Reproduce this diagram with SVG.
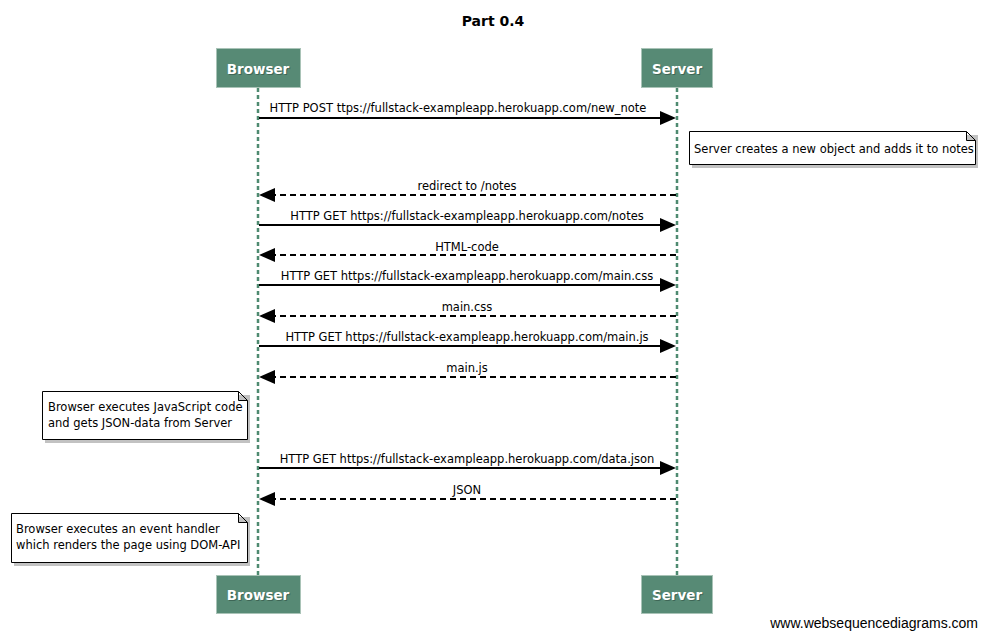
<svg xmlns="http://www.w3.org/2000/svg" width="986" height="639" viewBox="0 0 986 639">
<defs>
<style>
.life{stroke:#4e8a70;stroke-width:2.5;stroke-dasharray:4,3;fill:none}
.actor rect{fill:#578a75;stroke:#a9c3b7;stroke-width:1}
.actor text{font-family:"DejaVu Sans",sans-serif;font-weight:bold;font-size:13.5px;fill:#ffffff;text-anchor:middle}
.actor .sh{fill:#2f4f42;opacity:0.6}
.msg{stroke:#000;stroke-width:2;fill:none}
.dash{stroke-dasharray:6,4}
.lbl{font-family:"DejaVu Sans",sans-serif;font-size:11.5px;fill:#000;text-anchor:middle}
.note path.b{fill:#fff;stroke:#000;stroke-width:1}
.note path.s{fill:#999;opacity:0.6}
.note text{font-family:"DejaVu Sans",sans-serif;font-size:11.5px;fill:#000}
</style>
</defs>
<rect width="986" height="639" fill="#fff"/>
<text x="493" y="26" font-family="DejaVu Sans, sans-serif" font-weight="bold" font-size="14px" text-anchor="middle" fill="#000">Part 0.4</text>

<g id="lifelines">
<line class="life" x1="258" y1="88" x2="258" y2="575"/>
<line class="life" x1="677" y1="88" x2="677" y2="575"/>
</g>

<g id="browser-top" class="actor"><rect x="216.5" y="48.5" width="84" height="39"/><text class="sh" x="259" y="75">Browser</text><text x="258" y="74">Browser</text></g>
<g id="server-top" class="actor"><rect x="641.5" y="48.5" width="71" height="39"/><text class="sh" x="678" y="75">Server</text><text x="677" y="74">Server</text></g>
<g id="browser-bottom" class="actor"><rect x="216.5" y="575.5" width="84" height="38"/><text class="sh" x="259" y="601">Browser</text><text x="258" y="600">Browser</text></g>
<g id="server-bottom" class="actor"><rect x="641.5" y="575.5" width="71" height="38"/><text class="sh" x="678" y="601">Server</text><text x="677" y="600">Server</text></g>

<g id="connectors">
<line class="msg" x1="259" y1="118" x2="662" y2="118"/><polygon points="676,118 660,111 660,125"/>
<text class="lbl" x="458" y="112">HTTP POST ttps://fullstack-exampleapp.herokuapp.com/new_note</text>

<line class="msg dash" x1="676" y1="195" x2="274" y2="195"/><polygon points="259,195 275,188 275,202"/>
<text class="lbl" x="467" y="190">redirect to /notes</text>

<line class="msg" x1="259" y1="225" x2="662" y2="225"/><polygon points="676,225 660,218 660,232"/>
<text class="lbl" x="467" y="220">HTTP GET https://fullstack-exampleapp.herokuapp.com/notes</text>

<line class="msg dash" x1="676" y1="255" x2="274" y2="255"/><polygon points="259,255 275,248 275,262"/>
<text class="lbl" x="467" y="251">HTML-code</text>

<line class="msg" x1="259" y1="285" x2="662" y2="285"/><polygon points="676,285 660,278 660,292"/>
<text class="lbl" x="467" y="280">HTTP GET https://fullstack-exampleapp.herokuapp.com/main.css</text>

<line class="msg dash" x1="676" y1="316" x2="274" y2="316"/><polygon points="259,316 275,309 275,323"/>
<text class="lbl" x="467" y="311">main.css</text>

<line class="msg" x1="259" y1="346" x2="662" y2="346"/><polygon points="676,346 660,339 660,353"/>
<text class="lbl" x="467" y="341">HTTP GET https://fullstack-exampleapp.herokuapp.com/main.js</text>

<line class="msg dash" x1="676" y1="377" x2="274" y2="377"/><polygon points="259,377 275,370 275,384"/>
<text class="lbl" x="467" y="372">main.js</text>

<line class="msg" x1="259" y1="468" x2="662" y2="468"/><polygon points="676,468 660,461 660,475"/>
<text class="lbl" x="467" y="463">HTTP GET https://fullstack-exampleapp.herokuapp.com/data.json</text>

<line class="msg dash" x1="676" y1="499" x2="274" y2="499"/><polygon points="259,499 275,492 275,506"/>
<text class="lbl" x="467" y="494">JSON</text>
</g>

<g id="note-server" class="note">
<path class="s" d="M692,135 h286 v33 h-286 z"/>
<path class="b" d="M689.5,131.5 h277 l9,9 v24 h-286 z M966.5,131.5 v9 h9"/>
<text x="694" y="153">Server creates a new object and adds it to notes</text>
</g>

<g id="note-browser-1" class="note">
<path class="s" d="M45,395 h205 v48 h-205 z"/>
<path class="b" d="M42.5,391.5 h196 l9,9 v39 h-205 z M238.5,391.5 v9 h9"/>
<text x="48" y="411">Browser executes JavaScript code</text>
<text x="48" y="427">and gets JSON-data from Server</text>
</g>

<g id="note-browser-2" class="note">
<path class="s" d="M14,517 h236 v49 h-236 z"/>
<path class="b" d="M11.5,513.5 h227 l9,9 v40 h-236 z M238.5,513.5 v9 h9"/>
<text x="16" y="533">Browser executes an event handler</text>
<text x="16" y="549">which renders the page using DOM-API</text>
</g>

<text x="978" y="628" font-family="Liberation Sans, sans-serif" font-size="14px" text-anchor="end" fill="#000">www.websequencediagrams.com</text>
</svg>
